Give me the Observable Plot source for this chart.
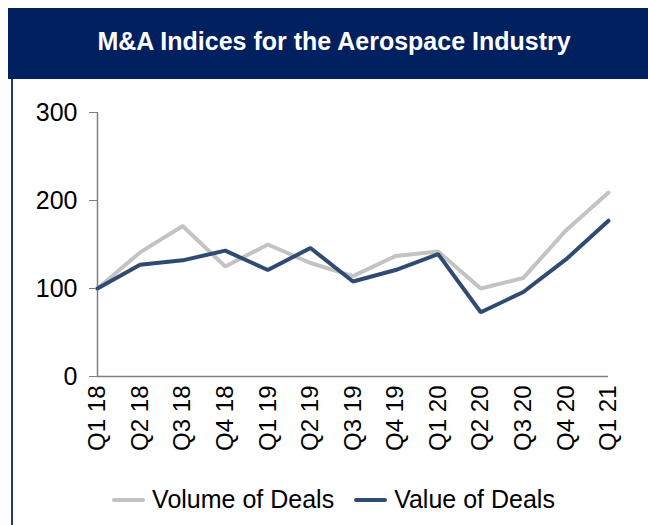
<!DOCTYPE html>
<html>
<head>
<meta charset="utf-8">
<script src="https://cdn.jsdelivr.net/npm/d3@7"></script>
<script src="https://cdn.jsdelivr.net/npm/@observablehq/plot@0.6"></script>
<style>
  html, body { margin: 0; padding: 0; background: #fff; }
  body { font-family: "Liberation Sans", Arial, sans-serif; }
  #wrap { position: relative; width: 648px; height: 525px; overflow: hidden; background: #fff; }
  #banner { position: absolute; left: 8px; top: 8px; width: 640px; height: 71px; background: #002060;
            color: #fff; font-weight: bold; font-size: 25px; display: flex; align-items: center; justify-content: center; }
  #banner span { margin-left: 12px; margin-top: -4px; }
  #leftline { position: absolute; left: 11px; top: 79px; width: 2px; height: 446px; background: #1f3a7a; }
  #chart { position: absolute; left: 0; top: 0; }
  #legend { position: absolute; left: 0; top: 485px; width: 648px; display: flex; justify-content: center; align-items: center;
            font-size: 25px; color: #000; }
  #legend .wrapIn { display: flex; align-items: center; margin-left: 19px; }
  .item { display: flex; align-items: center; margin: 0 10px; }
  .sw { width: 33px; height: 4px; border-radius: 2px; margin-right: 7px; }
</style>
</head>
<body>
<div id="wrap">
  <div id="banner"><span>M&amp;A Indices for the Aerospace Industry</span></div>
  <div id="leftline"></div>
  <div id="chart"></div>
  <div id="legend"><div class="wrapIn"></div></div>
</div>
<script>
const quarters = ["Q1 18","Q2 18","Q3 18","Q4 18","Q1 19","Q2 19","Q3 19","Q4 19","Q1 20","Q2 20","Q3 20","Q4 20","Q1 21"];
const volumeOfDeals = [100, 141, 171, 125, 150, 129, 114, 137, 142, 100, 112, 166, 209];
const valueOfDeals  = [100, 127, 132, 143, 121, 146, 108, 121, 139, 73, 96, 133, 177];
const yTicks = [0, 100, 200, 300];
const seriesNames = ["Volume of Deals", "Value of Deals"];
const seriesColors = ["#c3c3c3", "#2f4b72"];

const rows = [];
quarters.forEach((q, i) => {
  rows.push({q, v: volumeOfDeals[i], s: seriesNames[0]});
  rows.push({q, v: valueOfDeals[i], s: seriesNames[1]});
});

const chart = Plot.plot({
  width: 648,
  height: 470,
  marginTop: 112,
  marginBottom: 94,
  marginLeft: 97,
  marginRight: 40,
  style: {fontFamily: '"Liberation Sans", Arial, sans-serif', background: "transparent", color: "#000"},
  x: {type: "point", domain: quarters, padding: 0, round: false},
  y: {domain: [0, 300]},
  color: {domain: seriesNames, range: seriesColors},
  marks: [
    Plot.axisY({ticks: yTicks, tickSize: 8, tickPadding: 12, fontSize: 25, stroke: "#808080", strokeOpacity: 1, label: null, fill: "#000"}),
    Plot.axisX({tickRotate: -90, tickSize: 0, tickPadding: 9, fontSize: 24, label: null, fill: "#000"}),
    Plot.ruleY([0], {stroke: "#808080", strokeWidth: 1.5}),
    Plot.ruleX([quarters[0]], {y1: 0, y2: 300, stroke: "#808080", strokeWidth: 1.5}),
    Plot.line(rows, {x: "q", y: "v", stroke: "s", z: "s", strokeWidth: 4, strokeLinejoin: "miter", strokeLinecap: "round"})
  ]
});
document.getElementById("chart").appendChild(chart);

const legend = document.querySelector("#legend .wrapIn");
seriesNames.forEach((name, i) => {
  const item = document.createElement("div");
  item.className = "item";
  const sw = document.createElement("div");
  sw.className = "sw";
  sw.style.background = seriesColors[i];
  const t = document.createElement("span");
  t.textContent = name;
  item.appendChild(sw);
  item.appendChild(t);
  legend.appendChild(item);
});
</script>
</body>
</html>
